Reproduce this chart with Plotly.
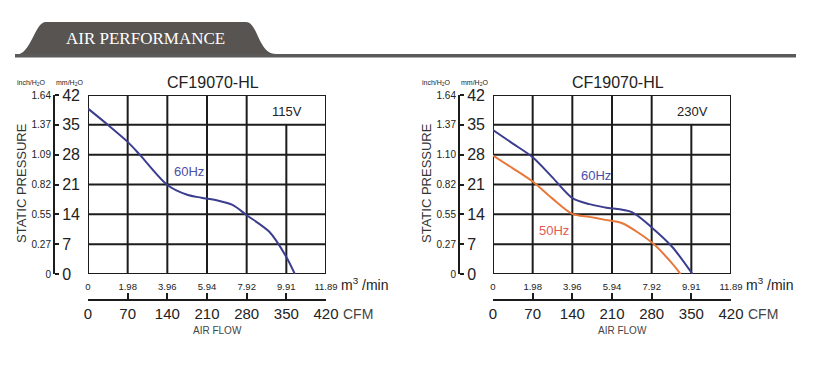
import plotly.graph_objects as go

# ---------------- data ----------------
cfm_ticks = [0, 70, 140, 210, 280, 350, 420]
m3_labels = ["0", "1.98", "3.96", "5.94", "7.92", "9.91", "11.89"]
cfm_labels = ["0", "70", "140", "210", "280", "350", "420"]
mm_ticks = [0, 7, 14, 21, 28, 35, 42]
mm_labels = ["0", "7", "14", "21", "28", "35", "42"]
inch_labels_115 = ["0", "0.27", "0.55", "0.82", "1.09", "1.37", "1.64"]
inch_labels_230 = ["0", "0.27", "0.55", "0.82", "1.10", "1.37", "1.64"]

# 115V, 60Hz
cfm_115_60 = [0, 35, 70, 92, 140, 175, 200, 230, 255, 280, 320, 350, 365]
p_115_60 = [38.8, 35.0, 31.0, 27.9, 20.9, 18.6, 17.9, 17.2, 16.2, 13.8, 9.9, 4.0, 0]
# 230V, 60Hz
cfm_230_60 = [0, 35, 70, 104, 140, 170, 198, 245, 282, 316, 352]
p_230_60 = [33.8, 30.6, 27.4, 22.8, 17.8, 16.4, 15.6, 14.5, 10.7, 6.4, 0]
# 230V, 50Hz
cfm_230_50 = [0, 35, 70, 104, 140, 170, 198, 228, 282, 316, 331]
p_230_50 = [27.8, 24.8, 21.7, 17.8, 14.1, 13.4, 12.7, 11.9, 7.2, 2.5, 0]

model = "CF19070-HL"
volt_left, volt_right = "115V", "230V"

BLUE = "#3b3d8e"
ORANGE = "#e8773a"
GRID = "#1c1c1c"
FONT = "Liberation Sans, Arial, sans-serif"
W, H = 815, 376


def px(x):
    return x / W


def py(y):
    return 1 - y / H


fig = go.Figure()

charts = [
    dict(off=0, xa="x", ya="y", xb="x2", yb="y2", inch=inch_labels_115, volt=volt_left),
    dict(off=405, xa="x3", ya="y3", xb="x4", yb="y4", inch=inch_labels_230, volt=volt_right),
]

layout_axes = {}
shapes = []
annotations = []


def ann(**kw):
    d = dict(showarrow=False, xanchor="center", yanchor="middle")
    d.update(kw)
    return d


for c in charts:
    o = c["off"]
    xa, ya, xb, yb = c["xa"], c["ya"], c["xb"], c["yb"]
    xa_n = "xaxis" + xa[1:]
    ya_n = "yaxis" + ya[1:]
    xb_n = "xaxis" + xb[1:]
    yb_n = "yaxis" + yb[1:]
    dom_x = [px(88 + o), px(326 + o)]
    dom_y = [py(274), py(95)]
    layout_axes[xa_n] = dict(domain=dom_x, range=[0, 420], anchor=ya, tickvals=cfm_ticks,
                             ticktext=m3_labels, showgrid=False, zeroline=False, showline=False,
                             ticks="", ticklabelstandoff=5, automargin=False,
                             tickfont=dict(size=9.5, color="#222", family=FONT), fixedrange=True)
    layout_axes[ya_n] = dict(domain=dom_y, range=[0, 42], anchor="free", position=px(54 + o),
                             side="right", tickvals=mm_ticks, ticktext=mm_labels,
                             ticks="outside", ticklen=4, tickwidth=2, tickcolor=GRID,
                             showline=True, linecolor=GRID, linewidth=2, automargin=False,
                             showgrid=False, zeroline=False, ticklabelstandoff=0,
                             tickfont=dict(size=16, color="#222", family=FONT), fixedrange=True)
    layout_axes[xb_n] = dict(overlaying=xa, range=[0, 420], anchor="free", position=py(300),
                             side="bottom", tickvals=cfm_ticks, ticktext=cfm_labels,
                             ticks="inside", ticklen=6, tickwidth=2, tickcolor=GRID,
                             showline=True, linecolor=GRID, linewidth=2, automargin=False,
                             showgrid=False, zeroline=False, ticklabelstandoff=0,
                             tickfont=dict(size=15, color="#222", family=FONT), fixedrange=True)
    layout_axes[yb_n] = dict(overlaying=ya, range=[0, 42], anchor="free", position=px(54 + o),
                             side="left", tickvals=mm_ticks, ticktext=c["inch"],
                             ticks="", showline=False, showgrid=False, zeroline=False,
                             ticklabelstandoff=3, automargin=False,
                             tickfont=dict(size=10, color="#222", family=FONT), fixedrange=True)

    fig.add_trace(go.Scatter(x=[0, 420], y=[0, 42], xaxis=xb, yaxis=yb, mode="markers",
                             marker=dict(opacity=0), hoverinfo="skip", showlegend=False))

    for t in cfm_ticks:
        top = 35 if t == 350 else 42
        shapes.append(dict(type="line", xref=xa, yref=ya, x0=t, x1=t, y0=0, y1=top,
                           line=dict(color=GRID, width=2), layer="below"))
    for t in mm_ticks:
        shapes.append(dict(type="line", xref=xa, yref=ya, x0=0, x1=420, y0=t, y1=t,
                           line=dict(color=GRID, width=2), layer="below"))

    annotations += [
        ann(x=px(213 + o), y=py(82), xref="paper", yref="paper", text=model,
            font=dict(size=16, color="#222", family=FONT)),
        ann(x=px(31 + o), y=py(83), xref="paper", yref="paper", text="inch/H<sub>2</sub>O",
            font=dict(size=7, color="#222", family=FONT)),
        ann(x=px(69 + o), y=py(83), xref="paper", yref="paper", text="mm/H<sub>2</sub>O",
            font=dict(size=7, color="#222", family=FONT)),
        ann(x=px(21 + o), y=py(183), xref="paper", yref="paper", text="STATIC PRESSURE",
            textangle=-90, font=dict(size=13, color="#333", family=FONT)),
        ann(x=px(339 + o), y=py(284), xref="paper", yref="paper", xanchor="left",
            text="m<sup>3</sup> /min", font=dict(size=14, color="#222", family=FONT)),
        ann(x=px(341 + o), y=py(314), xref="paper", yref="paper", xanchor="left",
            text="CFM", font=dict(size=14, color="#444", family=FONT)),
        ann(x=px(217 + o), y=py(330), xref="paper", yref="paper", text="AIR FLOW",
            font=dict(size=10, color="#444", family=FONT)),
        ann(x=352, y=38.1, xref=xa, yref=ya, text=c["volt"],
            font=dict(size=13, color="#222", family=FONT)),
    ]

fig.add_trace(go.Scatter(x=cfm_115_60, y=p_115_60, xaxis="x", yaxis="y", mode="lines",
                         line=dict(color=BLUE, width=2, shape="spline", smoothing=0.8),
                         name="60Hz", showlegend=False))
fig.add_trace(go.Scatter(x=cfm_230_50, y=p_230_50, xaxis="x3", yaxis="y3", mode="lines",
                         line=dict(color=ORANGE, width=2, shape="spline", smoothing=0.8),
                         name="50Hz", showlegend=False))
fig.add_trace(go.Scatter(x=cfm_230_60, y=p_230_60, xaxis="x3", yaxis="y3", mode="lines",
                         line=dict(color=BLUE, width=2, shape="spline", smoothing=0.8),
                         name="60Hz", showlegend=False))

annotations += [
    ann(x=178, y=24, xref="x", yref="y", text="60Hz",
        font=dict(size=13, color="#4a4ea8", family=FONT)),
    ann(x=181, y=23.2, xref="x3", yref="y3", text="60Hz",
        font=dict(size=13, color="#4a4ea8", family=FONT)),
    ann(x=107, y=10.3, xref="x3", yref="y3", text="50Hz",
        font=dict(size=13, color="#e25a55", family=FONT)),
]

tab = (f"M {px(15)},{py(55)} C {px(32)},{py(55)} {px(34)},{py(22)} {px(46)},{py(22)} "
       f"L {px(246)},{py(22)} C {px(258)},{py(22)} {px(258)},{py(54)} {px(276)},{py(54)} Z")
shapes.append(dict(type="path", xref="paper", yref="paper", path=tab,
                   fillcolor="#575452", line=dict(width=0), layer="below"))
shapes.append(dict(type="rect", xref="paper", yref="paper", x0=px(15), x1=px(796),
                   y0=py(57.5), y1=py(54), fillcolor="#5a5a5a", line=dict(width=0),
                   layer="below"))
annotations.append(ann(x=px(145), y=py(38), xref="paper", yref="paper", text="AIR PERFORMANCE",
                       font=dict(size=17, color="white",
                                 family="Liberation Serif, DejaVu Serif, serif")))

fig.update_layout(width=W, height=H, margin=dict(l=0, r=0, t=0, b=0, autoexpand=False),
                  paper_bgcolor="white", plot_bgcolor="white", showlegend=False,
                  shapes=shapes, annotations=annotations, **layout_axes)

fig.write_html("out.html", config={"displayModeBar": False},
               post_script="document.body.style.margin='0';")
